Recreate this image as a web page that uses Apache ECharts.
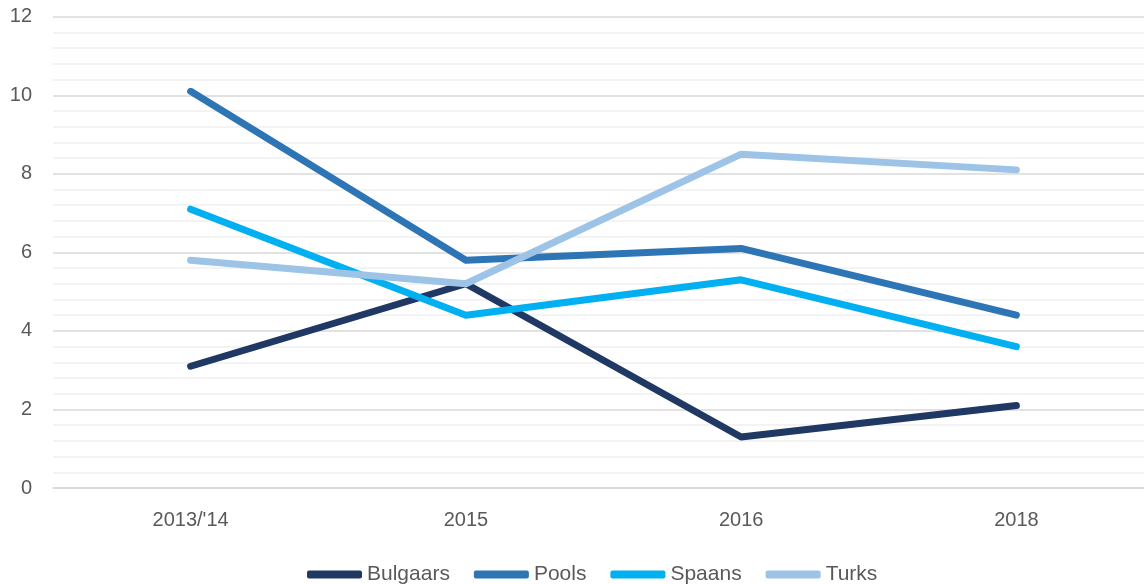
<!DOCTYPE html>
<html>
<head>
<meta charset="utf-8">
<script src="https://cdn.jsdelivr.net/npm/echarts@6/dist/echarts.min.js"></script>
<style>
html, body { margin: 0; padding: 0; background: #fff; }
#main { width: 1144px; height: 584px; }
</style>
</head>
<body>
<div id="main"></div>
<script>
var categories = ['2013/\'14', '2015', '2016', '2018'];
var bulgaars = [3.1, 5.2, 1.3, 2.1];
var pools = [10.1, 5.8, 6.1, 4.4];
var spaans = [7.1, 4.4, 5.3, 3.6];
var turks = [5.8, 5.2, 8.5, 8.1];

var font = 'Liberation Sans';

function lineSeries(name, data, color) {
	return {
		name: name,
		type: 'line',
		data: data,
		symbol: 'none',
		color: color,
		lineStyle: {
			width: 7,
			color: color,
			cap: 'round',
			join: 'round'
		}
	};
}

var chart = echarts.init(document.getElementById('main'));
chart.setOption({
	animation: false,
	grid: {
		left: 53,
		top: 16.7,
		width: 1101,
		height: 471.3,
		outerBoundsMode: 'none'
	},
	legend: {
		top: 559,
		left: 302,
		icon: 'roundRect',
		itemWidth: 55,
		itemHeight: 8,
		itemGap: 24,
		textStyle: {
			fontFamily: font,
			fontSize: 21,
			color: '#595959'
		},
		data: ['Bulgaars', 'Pools', 'Spaans', 'Turks']
	},
	xAxis: {
		type: 'category',
		data: categories,
		axisLine: { show: true, lineStyle: { color: '#d9d9d9', width: 1.5 } },
		axisTick: { show: false },
		axisLabel: {
			margin: 22,
			fontFamily: font,
			fontSize: 20,
			color: '#595959'
		}
	},
	yAxis: {
		type: 'value',
		min: 0,
		max: 12,
		interval: 2,
		axisLine: { show: false },
		axisTick: { show: false },
		axisLabel: {
			margin: 21,
			fontFamily: font,
			fontSize: 20,
			color: '#595959'
		},
		splitLine: { lineStyle: { color: '#d9d9d9', width: 1.5 } },
		minorTick: { show: false, splitNumber: 5 },
		minorSplitLine: { show: true, lineStyle: { color: '#efefef', width: 1.5 } }
	},
	series: [
		lineSeries('Bulgaars', bulgaars, '#203864'),
		lineSeries('Pools', pools, '#2e75b6'),
		lineSeries('Spaans', spaans, '#00b0f0'),
		lineSeries('Turks', turks, '#9dc3e6')
	]
});
</script>
</body>
</html>
